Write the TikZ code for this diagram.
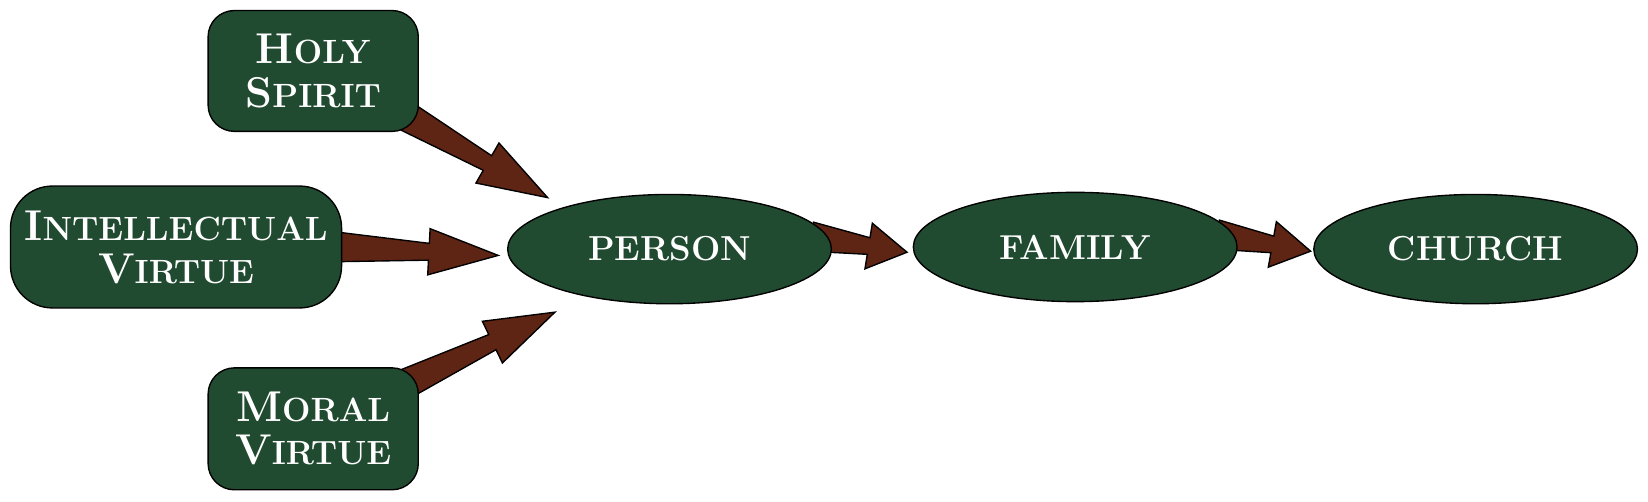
\documentclass[tikz,border=0pt]{standalone}
\usepackage{tikz}
\usetikzlibrary{positioning}
\usetikzlibrary{shapes,calc}
\usetikzlibrary{backgrounds}
\definecolor{boxgreen}{HTML}{214B30}
\definecolor{arrowbrown}{HTML}{5E2414}
\newcommand{\initial}[2]{{\fontsize{41}{41}\selectfont #1}{\fontsize{32}{32}\selectfont #2}}
\newcommand{\blockarrow}[3][66pt]{%
\fill[arrowbrown,draw=black,line width=1.3pt,line join=miter]
 ($(#2)!14pt!90:(#3)$) -- ($(#3)!#1!(#2)!8pt!90:(#3)$) -- ($(#3)!#1!(#2)!22pt!90:(#3)$) -- (#3)
 -- ($(#3)!#1!(#2)!22pt!-90:(#3)$) -- ($(#3)!#1!(#2)!8pt!-90:(#3)$) -- ($(#2)!14pt!-90:(#3)$) -- cycle;%
}
\tikzset{virtuebox/.style={draw=black,line width=1.3pt,fill=boxgreen,text=white,rounded corners=25pt,
  align=center,inner sep=0pt,font=\bfseries\fontsize{32}{41}\selectfont}}
\tikzset{stageoval/.style={ellipse,draw=black,line width=1.3pt,fill=boxgreen,text=white,inner sep=0pt,
  minimum width=308pt,minimum height=104pt,font=\bfseries\fontsize{33}{33}\selectfont}}

\begin{document}
\begin{tikzpicture}[x=1pt,y=-1pt]
\useasboundingbox (0,0) rectangle (1568,477);
\node[virtuebox,minimum width=200pt,minimum height=115pt] (hs) at (298,67.5) {\initial{H}{OLY}\\\initial{S}{PIRIT}};
\node[virtuebox,minimum width=315pt,minimum height=116pt,rounded corners=40pt] (iv) at (167.5,235) {\initial{I}{NTELLECTUAL}\\\initial{V}{IRTUE}};
\node[virtuebox,minimum width=200pt,minimum height=116pt] (mv) at (298,408) {\initial{M}{ORAL}\\\initial{V}{IRTUE}};
\node[stageoval] (person) at (637,237) {PERSON};
\node[stageoval] (family) at (1023,235) {FAMILY};
\node[stageoval] (church) at (1404,237) {CHURCH};
% arrow tails start just inside the shapes
\coordinate (outHS) at ($(hs.center)!0.88!(hs.-26)$);
\coordinate (outIV) at ($(iv.east)+(-4,0)$);
\coordinate (outMV) at ($(mv.center)!0.88!(mv.26)$);
\coordinate (outP) at ($(person.center)!0.9!(person.5)$);
\coordinate (outF) at ($(family.center)!0.9!(family.5)$);
\coordinate (tipHS) at (521,188);
\coordinate (tipIV) at (474,243);
\coordinate (tipMV) at (528,297);
\coordinate (tipPF) at (863,240);
\coordinate (tipFC) at (1247,239);
\begin{scope}[on background layer]
\blockarrow{outHS}{tipHS}
\blockarrow{outIV}{tipIV}
\blockarrow{outMV}{tipMV}
\blockarrow[37pt]{outP}{tipPF}
\blockarrow[37pt]{outF}{tipFC}
\end{scope}
\end{tikzpicture}
\end{document}
